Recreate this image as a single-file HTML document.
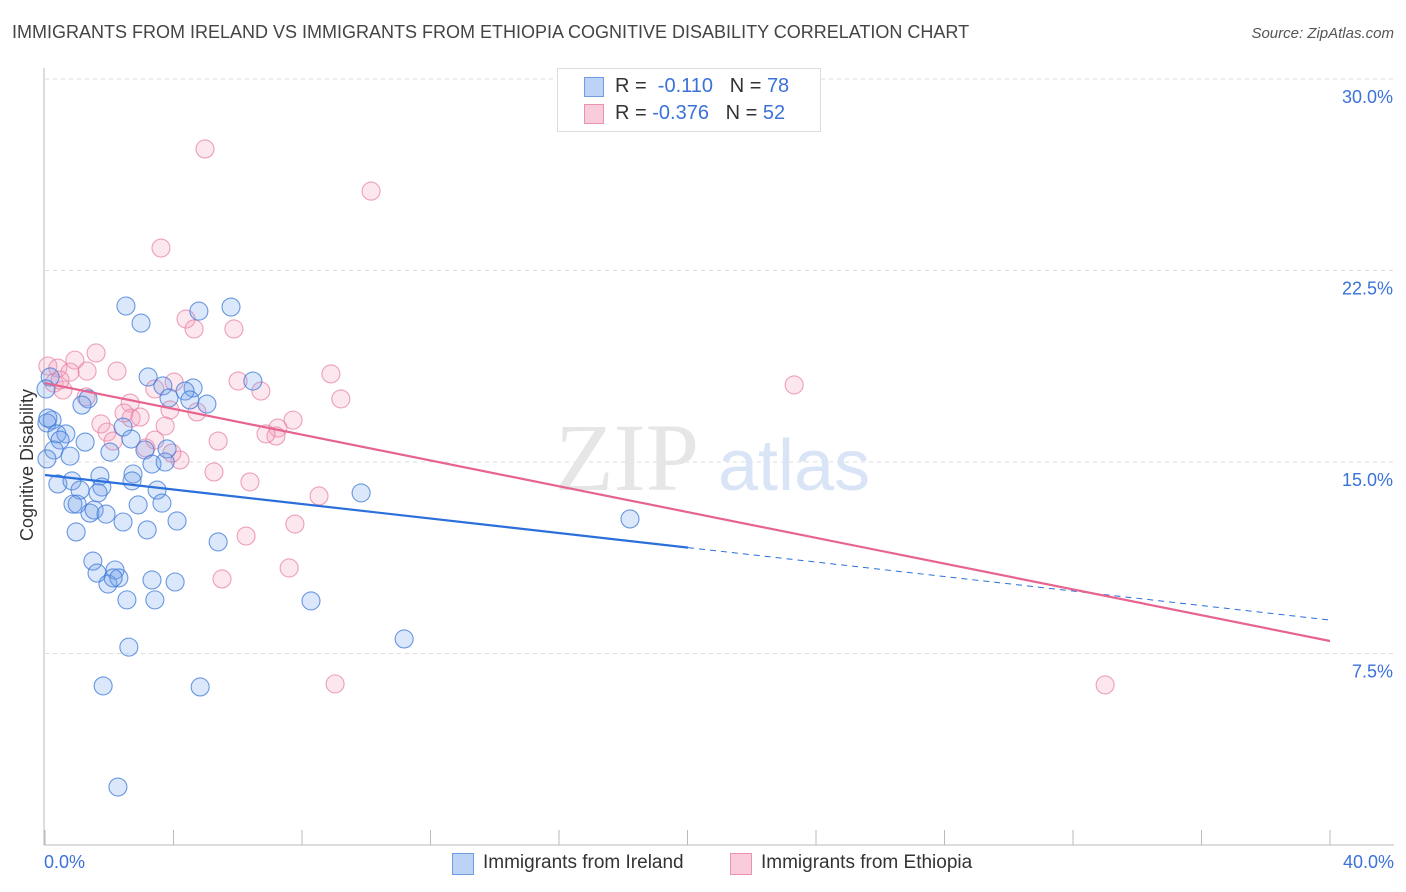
<!DOCTYPE html>
<html><head><meta charset="utf-8"><style>
body{margin:0;background:#fff;font-family:"Liberation Sans",sans-serif;}
#wrap{position:relative;width:1406px;height:892px;overflow:hidden}
.t{position:absolute;white-space:nowrap}
</style></head><body>
<div id="wrap">
<div class="t" style="left:12px;top:22px;font-size:18px;color:#444">IMMIGRANTS FROM IRELAND VS IMMIGRANTS FROM ETHIOPIA COGNITIVE DISABILITY CORRELATION CHART</div>
<div class="t" style="right:12px;top:25px;font-size:15px;color:#555;font-style:italic">Source: ZipAtlas.com</div>
<svg id="svg" width="1406" height="892" style="position:absolute;left:0;top:0"></svg>
</div>
<script>
const yTicks=[7.5,15,22.5,30];
const yTickLabels=["7.5%","15.0%","22.5%","30.0%"];
const xTickCount=10;
const irelandX=[2.52,2.99,4.79,5.79,6.47,3.21,3.67,4.61,4.36,3.86,4.51,5.04,1.34,1.15,0.16,0.03,0.22,0.06,0.37,0.65,0.47,1.25,0.28,0.78,0.06,2.02,2.43,2.68,3.11,3.80,3.33,3.74,0.40,0.84,1.71,1.77,1.65,1.09,0.87,1.00,2.74,2.71,3.49,3.64,2.90,1.40,1.53,1.90,2.43,3.18,4.11,0.97,1.49,1.62,2.18,1.96,2.30,2.12,3.33,4.05,2.55,3.42,5.39,8.28,9.84,18.21,11.18,2.61,1.81,4.83,2.27,0.09];
const irelandY=[21.11,20.44,20.91,21.07,18.17,18.33,17.98,17.90,17.78,17.51,17.43,17.27,17.47,17.23,18.33,17.86,16.64,16.53,16.10,16.10,15.86,15.78,15.47,15.23,15.12,15.39,16.37,15.90,15.47,15.51,14.92,15.00,14.14,14.26,14.45,14.02,13.79,13.90,13.35,13.35,14.53,14.26,13.90,13.39,13.32,13.00,13.12,12.96,12.65,12.34,12.69,12.26,11.12,10.65,10.77,10.22,10.46,10.46,10.38,10.30,9.60,9.60,11.87,9.56,13.79,12.77,8.07,7.75,6.23,6.19,2.27,16.72];
const ethiopiaX=[4.98,10.15,3.61,4.39,4.64,5.88,1.59,0.93,0.09,0.40,0.78,1.31,2.24,0.28,0.56,1.28,6.01,6.72,8.90,9.21,4.02,2.65,2.68,2.46,2.96,3.89,4.73,1.74,1.93,3.74,5.39,3.14,4.20,3.95,5.26,6.38,7.72,7.25,7.19,6.88,8.53,7.78,6.26,7.60,5.51,9.03,23.32,33.00,3.42,2.12,3.42,0.47];
const ethiopiaY=[27.26,25.61,23.38,20.60,20.21,20.21,19.27,18.99,18.76,18.68,18.52,18.56,18.56,18.09,17.82,17.55,18.17,17.78,18.45,17.47,18.13,17.31,16.72,16.92,16.76,17.04,16.96,16.49,16.17,16.41,15.82,15.55,15.08,15.35,14.61,14.22,16.64,16.33,16.02,16.10,13.67,12.57,12.10,10.85,10.42,6.31,18.02,6.27,15.86,15.82,17.86,18.21];
const irelandTrend=[14.49,8.81]; // y at x=0 and x=40
const irelandSolidEnd=20.02;
const ethiopiaTrend=[18.09,7.99];

const svg=document.getElementById('svg');const NS='http://www.w3.org/2000/svg';
const X=v=>45+v/40*1285, Y=v=>845-v/7.5*191.5;
function el(t,a){const e=document.createElementNS(NS,t);for(const k in a)e.setAttribute(k,a[k]);svg.appendChild(e);return e;}
yTicks.forEach((t,i)=>{
 const g=el('line',{x1:45,x2:1394,y1:Y(t),y2:Y(t),stroke:'#ddd','stroke-dasharray':'4,4'});
 
 
 const tx=el('text',{x:1393,y:Y(t)+24,'text-anchor':'end','font-size':18,fill:'#3b72d9','font-family':'Liberation Sans'});
 tx.textContent=yTickLabels[i];
 
 
});
const ax=el('line',{x1:44,x2:44,y1:68,y2:845,stroke:'#bbb'});


const bx=el('line',{x1:44,x2:1394,y1:845,y2:845,stroke:'#bbb'});


for(let i=0;i<=xTickCount;i++){const l=el('line',{x1:X(i*4),x2:X(i*4),y1:830,y2:845,stroke:'#bbb'});
 
 }
const wm=el('text',{x:555,y:490,'font-size':96,fill:'#e6e6e6','font-family':'Liberation Serif'});wm.textContent='ZIP';


const wm2=el('text',{x:718,y:490,'font-size':72,fill:'#d9e5f6','font-family':'Liberation Sans'});wm2.textContent='atlas';


function pts(xs,ys,fill,stroke,name){xs.forEach((x,i)=>{const c=el('circle',{cx:X(x),cy:Y(ys[i]),r:9,fill:fill,stroke:stroke,'stroke-width':1.1});
 
 });}
pts(ethiopiaX,ethiopiaY,'rgba(244,160,188,0.25)','rgba(232,130,165,0.75)','ethiopia-point');
pts(irelandX,irelandY,'rgba(110,160,235,0.25)','rgba(60,120,215,0.75)','ireland-point');
const bY=x=>irelandTrend[0]+(irelandTrend[1]-irelandTrend[0])*x/40;
const l1=el('line',{x1:X(0),y1:Y(bY(0)),x2:X(irelandSolidEnd),y2:Y(bY(irelandSolidEnd)),stroke:'#2a6fdb','stroke-width':2.2});


const l2=el('line',{x1:X(irelandSolidEnd),y1:Y(bY(irelandSolidEnd)),x2:X(40),y2:Y(bY(40)),stroke:'#2a6fdb','stroke-width':1,'stroke-dasharray':'6,5'});


const l3=el('line',{x1:X(0),y1:Y(ethiopiaTrend[0]),x2:X(40),y2:Y(ethiopiaTrend[1]),stroke:'#e6648f','stroke-width':2.2});


</script>
<div class="t" style="left:557px;top:68px;width:262px;height:62px;border:1px solid #ddd;background:#fff">
 <div style="position:absolute;left:26px;top:8px;width:18px;height:18px;background:#bcd3f5;border:1px solid #6f9de3"></div>
 <div style="position:absolute;left:57px;top:6px;font-size:20px;color:#333">R = &nbsp;<span style="color:#3b72d9">-0.110</span> &nbsp;&nbsp;N = <span style="color:#3b72d9">78</span></div>
 <div style="position:absolute;left:26px;top:35px;width:18px;height:18px;background:#f9ccdb;border:1px solid #eb94b0"></div>
 <div style="position:absolute;left:57px;top:33px;font-size:20px;color:#333">R = <span style="color:#3b72d9">-0.376</span> &nbsp;&nbsp;N = <span style="color:#3b72d9">52</span></div>
</div>
<div class="t" style="left:44px;top:852px;font-size:18px;color:#3b72d9">0.0%</div>
<div class="t" style="right:12px;top:852px;font-size:18px;color:#3b72d9">40.0%</div>
<div class="t" style="left:17px;top:541px;font-size:18px;color:#333;transform:rotate(-90deg);transform-origin:0 0">Cognitive Disability</div>
<div class="t" style="left:452px;top:853px;width:20px;height:20px;background:#bcd3f5;border:1px solid #6f9de3"></div>
<div class="t" style="left:483px;top:852px;font-size:19px;color:#333">Immigrants from Ireland</div>
<div class="t" style="left:730px;top:853px;width:20px;height:20px;background:#f9ccdb;border:1px solid #eb94b0"></div>
<div class="t" style="left:761px;top:852px;font-size:19px;color:#333">Immigrants from Ethiopia</div>
</body></html>
